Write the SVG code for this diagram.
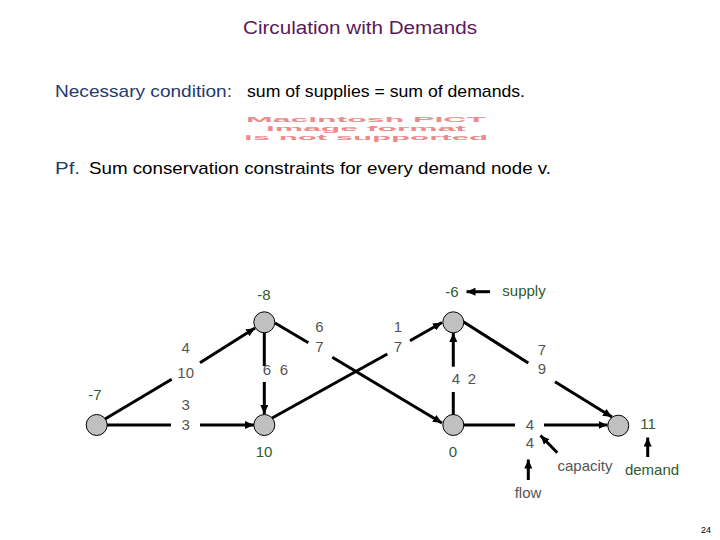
<svg xmlns="http://www.w3.org/2000/svg" width="720" height="540" viewBox="0 0 720 540">
<style>
.t{font-family:"Liberation Sans",Arial,sans-serif}
.node{fill:#c0c0c0;stroke:#000;stroke-width:1}
.e{stroke:#000;stroke-width:3;fill:none}
.el{font-family:"Liberation Sans",Arial,sans-serif;font-size:15px;fill:#555;text-anchor:middle}
.nl{font-family:"Liberation Sans",Arial,sans-serif;font-size:15px;fill:#2f5a2f;text-anchor:middle}
.pict{font-family:"Liberation Sans",Arial,sans-serif;font-size:7.5px;font-weight:bold;fill:#ee8a8a;text-anchor:middle}
</style>
<defs>
<marker id="ah" markerWidth="9" markerHeight="8" refX="9" refY="4" orient="auto" markerUnits="userSpaceOnUse">
<path d="M0,0 L9,4 L0,8 z" fill="#000"/>
</marker>
</defs>
<rect width="720" height="540" fill="#fff"/>
<text class="t" x="360" y="34" font-size="18" fill="#5a1a5a" text-anchor="middle" textLength="234" lengthAdjust="spacingAndGlyphs">Circulation with Demands</text>
<text class="t" x="55" y="97" font-size="17" fill="#1f3a6e" textLength="177" lengthAdjust="spacingAndGlyphs">Necessary condition:</text>
<text class="t" x="247" y="97" font-size="17" fill="#000" textLength="278" lengthAdjust="spacingAndGlyphs">sum of supplies = sum of demands.</text>
<g id="pict">
<text class="pict" x="366" y="122" textLength="240" lengthAdjust="spacingAndGlyphs">Macintosh PICT</text>
<text class="pict" x="366" y="131" textLength="200" lengthAdjust="spacingAndGlyphs">image format</text>
<text class="pict" x="366" y="140" textLength="244" lengthAdjust="spacingAndGlyphs">is not supported</text>
</g>
<text class="t" x="55" y="174" font-size="17" fill="#1f3a6e" textLength="25" lengthAdjust="spacingAndGlyphs">Pf.</text>
<text class="t" x="89" y="174" font-size="17" fill="#000" textLength="462" lengthAdjust="spacingAndGlyphs">Sum conservation constraints for every demand node v.</text>

<g id="connectors">
<line class="e" x1="105" y1="419" x2="171.7" y2="379.3"/>
<line class="e" x1="200" y1="362.7" x2="255" y2="328" marker-end="url(#ah)"/>
<line class="e" x1="107" y1="425" x2="171" y2="425"/>
<line class="e" x1="200" y1="425" x2="254" y2="425" marker-end="url(#ah)"/>
<line class="e" x1="264.3" y1="332" x2="264.3" y2="366"/>
<line class="e" x1="264.3" y1="382" x2="264.3" y2="414" marker-end="url(#ah)"/>
<line class="e" x1="275" y1="323" x2="308.3" y2="342.7"/>
<line class="e" x1="332.3" y1="357.3" x2="442" y2="423" marker-end="url(#ah)"/>
<line class="e" x1="271.7" y1="418.3" x2="387.3" y2="354"/>
<line class="e" x1="410" y1="340.7" x2="442" y2="322.5" marker-end="url(#ah)"/>
<line class="e" x1="453.3" y1="415" x2="453.3" y2="392"/>
<line class="e" x1="453.3" y1="366.7" x2="453.3" y2="333" marker-end="url(#ah)"/>
<line class="e" x1="463.3" y1="321.7" x2="528.3" y2="363"/>
<line class="e" x1="555" y1="381.7" x2="612" y2="417" marker-end="url(#ah)"/>
<line class="e" x1="463.5" y1="425" x2="515" y2="425"/>
<line class="e" x1="544" y1="425" x2="607.5" y2="425" marker-end="url(#ah)"/>
<line class="e" x1="490" y1="291.7" x2="466.5" y2="291.7" marker-end="url(#ah)"/>
<line class="e" x1="528.3" y1="480" x2="528.3" y2="459.5" marker-end="url(#ah)"/>
<line class="e" x1="557.3" y1="452.7" x2="540.5" y2="435.5" marker-end="url(#ah)"/>
<line class="e" x1="647.7" y1="457" x2="647.7" y2="437.5" marker-end="url(#ah)"/>
</g>

<g id="A"><circle class="node" cx="96.7" cy="425" r="10.5"/><text class="nl" x="95" y="400" fill="#3a4a3a">-7</text></g>
<g id="B"><circle class="node" cx="264.3" cy="322.3" r="10.5"/><text class="nl" x="264" y="300">-8</text></g>
<g id="C"><circle class="node" cx="264.3" cy="425" r="10.5"/><text class="nl" x="264" y="457">10</text></g>
<g id="D"><circle class="node" cx="453.3" cy="322.3" r="10.5"/><text class="nl" x="452" y="297">-6</text></g>
<g id="E"><circle class="node" cx="453.3" cy="425" r="10.5"/><text class="nl" x="453" y="457">0</text></g>
<g id="F"><circle class="node" cx="618.3" cy="425.7" r="10.5"/><text class="nl" x="648" y="429">11</text></g>

<g id="edge-labels">
<text class="el" x="185.7" y="353">4</text>
<text class="el" x="185.7" y="378">10</text>
<text class="el" x="185.7" y="410">3</text>
<text class="el" x="185.7" y="430">3</text>
<text class="el" x="267" y="375">6</text>
<text class="el" x="284" y="375">6</text>
<text class="el" x="319.5" y="332">6</text>
<text class="el" x="319.5" y="352">7</text>
<text class="el" x="398" y="332">1</text>
<text class="el" x="398" y="352">7</text>
<text class="el" x="456" y="384">4</text>
<text class="el" x="472" y="384">2</text>
<text class="el" x="542" y="355">7</text>
<text class="el" x="542" y="374">9</text>
<text class="el" x="530" y="430">4</text>
<text class="el" x="530" y="448">4</text>
</g>

<g id="annotations">
<text class="nl" x="524" y="296">supply</text>
<text class="el" x="528" y="498">flow</text>
<text class="el" x="585" y="471" fill="#111">capacity</text>
<text class="nl" x="652" y="475">demand</text>
</g>
<text class="t" x="706" y="533" font-size="9" fill="#000" text-anchor="middle">24</text>
</svg>
